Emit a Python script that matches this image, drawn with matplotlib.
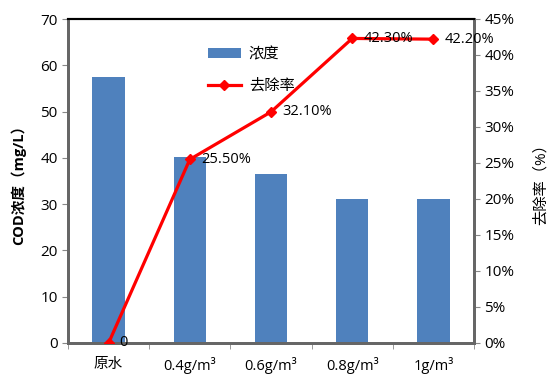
import matplotlib.pyplot as plt
from matplotlib.ticker import FuncFormatter, MultipleLocator
import numpy as np

plt.rcParams['font.family'] = ['Open Sans', 'Noto Sans CJK SC', 'DejaVu Sans']

categories = ['原水', '0.4g/m³', '0.6g/m³', '0.8g/m³', '1g/m³']
cod = [57.5, 40.2, 36.6, 31.1, 31.2]
removal = [0, 25.5, 32.1, 42.3, 42.2]
removal_labels = ['0', '25.50%', '32.10%', '42.30%', '42.20%']

fig = plt.figure(figsize=(5.49, 3.76), dpi=100)
ax = fig.add_axes([68/549, 1-343/376, (474-68)/549, (343-19)/376])
x = np.arange(len(categories))
ax.bar(x, cod, width=0.4, color='#4f81bd', label='浓度', zorder=2)
ax.set_xlim(-0.5, len(categories)-0.5)
ax.set_ylim(0, 70)
ax.yaxis.set_major_locator(MultipleLocator(10))
ax.set_xticks(x)
ax.set_xticklabels(categories, fontsize=10.5)
ax.set_xticks(np.arange(-0.5, len(categories)), minor=True)
ax.tick_params(axis='x', which='major', length=0, pad=10)
ax.tick_params(axis='x', which='minor', length=4, color='#888888')
ax.tick_params(axis='y', labelsize=11, length=4, color='#888888')
ax.set_ylabel('COD浓度（mg/L）', fontsize=10.5, fontweight='bold', labelpad=10)
for s in ['left', 'bottom', 'right']:
    ax.spines[s].set_color('#666666')
    ax.spines[s].set_linewidth(2)
ax.spines['top'].set_color('black')
ax.spines['top'].set_linewidth(1.5)

ax2 = ax.twinx()
ax2.plot(x, removal, color='red', lw=2.3, marker='D', markersize=5,
         label='去除率', zorder=3)
ax2.set_ylim(0, 45)
ax2.yaxis.set_major_locator(MultipleLocator(5))
ax2.yaxis.set_major_formatter(FuncFormatter(lambda v, p: f'{v:.0f}%'))
ax2.tick_params(axis='y', labelsize=11, length=4, color='#888888')
ax2.set_ylabel('去除率（%）', fontsize=11, rotation=90, labelpad=14)
for s in ['left', 'bottom', 'right']:
    ax2.spines[s].set_color('#666666')
    ax2.spines[s].set_linewidth(2)
ax2.spines['top'].set_color('black')
ax2.spines['top'].set_linewidth(1.5)

for xi, yi, t in zip(x, removal, removal_labels):
    ax2.annotate(t, (xi, yi), xytext=(8, 0), textcoords='offset points',
                 va='center', ha='left', fontsize=10.5)

h1, l1 = ax.get_legend_handles_labels()
h2, l2 = ax2.get_legend_handles_labels()
ax.legend(h1 + h2, l1 + l2, loc='upper left', bbox_to_anchor=(0.31, 0.955),
          frameon=False, fontsize=11, handlelength=2.2, handletextpad=0.5,
          labelspacing=1.1)

fig.savefig('out.png', dpi=100)
